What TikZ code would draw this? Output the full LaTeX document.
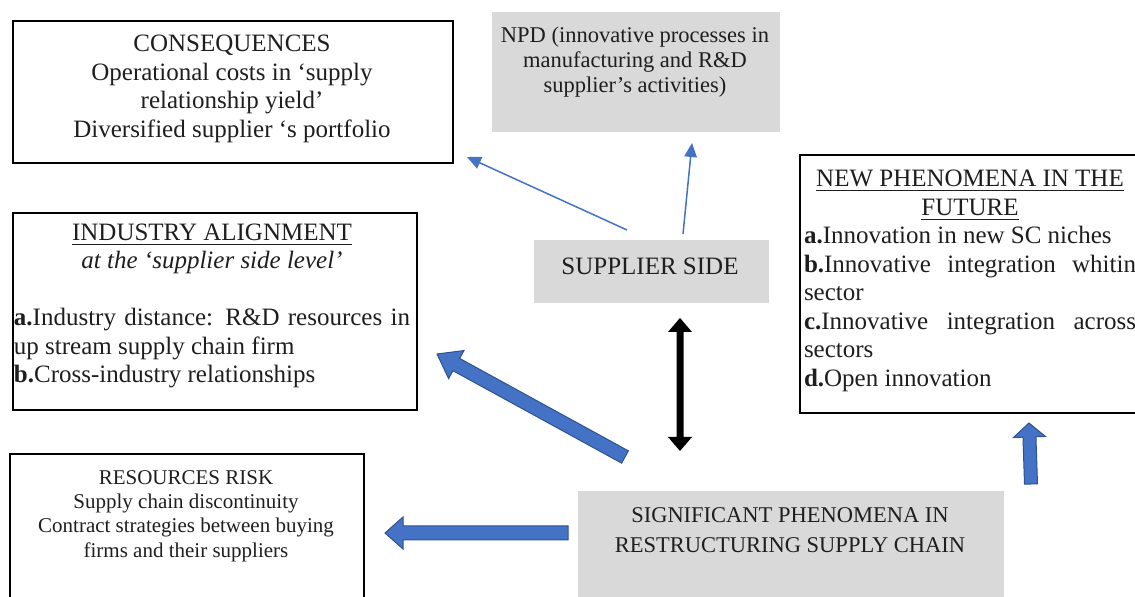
\documentclass[tikz,border=0pt]{standalone}
\usepackage{fontspec}
\setmainfont{Liberation Serif}
\usetikzlibrary{arrows.meta,calc,positioning}
\definecolor{ink}{HTML}{1E1E1E}
\definecolor{boxgray}{HTML}{D9D9D9}
\definecolor{arrowblue}{HTML}{4472C4}
\definecolor{arrowedge}{HTML}{2F528F}
\newcommand\bigtext{\fontsize{10}{11.4}\selectfont}
\newcommand\npdtext{\fontsize{9}{10}\selectfont}
\newcommand\sigtext{\fontsize{9}{11.8}\selectfont}
\newcommand\risktext{\fontsize{8.4}{9.7}\selectfont}
\newcommand\ctrline[1]{\hfill{#1}\hfill\null\par}
% block arrow: style, tail, tip, shaft half width, head half width, head length
\newcommand\singlearrow[6]{%
  \coordinate (neck) at ($(#3)!#6!(#2)$);
  \path[#1] ($(#2)!#4!90:(#3)$) -- ($(neck)!#4!90:(#3)$) -- ($(neck)!#5!90:(#3)$) -- (#3)
    -- ($(neck)!#5!-90:(#3)$) -- ($(neck)!#4!-90:(#3)$) -- ($(#2)!#4!-90:(#3)$) -- cycle;}
\newcommand\twowayarrow[6]{%
  \coordinate (necka) at ($(#2)!#6!(#3)$);\coordinate (neckb) at ($(#3)!#6!(#2)$);
  \path[#1] (#2) -- ($(necka)!#5!90:(#3)$) -- ($(necka)!#4!90:(#3)$) -- ($(neckb)!#4!90:(#3)$)
    -- ($(neckb)!#5!90:(#3)$) -- (#3) -- ($(neckb)!#5!-90:(#3)$) -- ($(neckb)!#4!-90:(#3)$)
    -- ($(necka)!#4!-90:(#3)$) -- ($(necka)!#5!-90:(#3)$) -- cycle;}
\tikzset{>=Latex,
  every node/.style={text=ink,inner sep=0pt},
  whitebox/.style={draw=black,line width=.7pt,anchor=north west},
  graybox/.style={fill=boxgray,anchor=north west},
  boxtext/.style={font=\bigtext,align=center},
  listtext/.style={font=\bigtext,align=justify,
    execute at begin node={\tolerance=10000\hyphenpenalty=10000}},
  thinarrow/.style={draw=arrowblue,line width=.6pt,-{Triangle[length=5.6pt,width=5pt]}},
  blockarrow/.style={fill=arrowblue,draw=arrowedge,line width=.4pt},
  twoway/.style={fill=black}}

\begin{document}
\begin{tikzpicture}[x=.4pt,y=-.4pt]
\useasboundingbox (0,0) rectangle (1135,597);
\clip (0,0) rectangle (1135,597);
% boxes
\node[whitebox,minimum width=176pt,minimum height=56.8pt] (cons) at (12,20) {};
\node[graybox,minimum width=115.2pt,minimum height=48pt] (npd) at (491,12) {};
\node[graybox,minimum width=94pt,minimum height=25.2pt] (supp) at (533,240) {};
\node[whitebox,minimum width=161.6pt,minimum height=78.8pt] (ind) at (12,212) {};
\node[whitebox,minimum width=150pt,minimum height=103.2pt] (newph) at (799,154) {};
\node[whitebox,minimum width=141.6pt,minimum height=64pt] (risk) at (9,453) {};
\node[graybox,minimum width=170.4pt,minimum height=48pt] (sig) at (577,491) {};
% texts
\node[boxtext] (consT) at (232,89) {CONSEQUENCES\\Operational costs in ‘supply\\relationship yield’\\Diversified supplier ‘s portfolio};
\node[boxtext,font=\npdtext] (npdT) at (635,62) {NPD (innovative processes in\\manufacturing and R\&D\\supplier’s activities)};
\node[boxtext] (suppT) at (650,266) {SUPPLIER SIDE};
\node[listtext,text width=158.4pt] (indT) at (212,306) {\ctrline{\underline{INDUSTRY ALIGNMENT}}\ctrline{\textit{at the ‘supplier side level’}}\vskip11.4pt
  \noindent\textbf{a.}Industry distance: R\&D resources in up stream supply chain firm\par
  \noindent\textbf{b.}Cross-industry relationships};
\node[listtext,text width=132.8pt] (newphT) at (970,281) {\ctrline{\underline{NEW PHENOMENA IN THE}}\ctrline{\underline{FUTURE}}
  \noindent\textbf{a.}Innovation in new SC niches\par
  \noindent\textbf{b.}Innovative integration whitin sector\par
  \noindent\textbf{c.}Innovative integration across sectors\par
  \noindent\textbf{d.}Open innovation};
\node[boxtext,font=\risktext] (riskT) at (186,516) {RESOURCES RISK\\Supply chain discontinuity\\Contract strategies between buying\\firms and their suppliers};
\node[boxtext,font=\sigtext] (sigT) at (790,530) {SIGNIFICANT PHENOMENA IN\\RESTRUCTURING SUPPLY CHAIN};
% arrow ends
\coordinate (suppNW) at (627,230); \coordinate (consTip) at (467,157);
\coordinate (suppN) at (683,234); \coordinate (npdTip) at (692,143);
\coordinate (suppS) at (680,318); \coordinate (sigN) at (680,451);
\coordinate (sigNW) at (625,457); \coordinate (indTip) at (437,354);
\coordinate (sigW) at (568,533); \coordinate (riskTip) at (385,533);
\coordinate (sigNE) at (1031,484); \coordinate (newphTip) at (1029,423);
% connectors
\draw[thinarrow] (suppNW) -- (consTip);
\draw[thinarrow] (suppN) -- (npdTip);
\twowayarrow{twoway}{suppS}{sigN}{1.4pt}{4.8pt}{5.6pt}
\singlearrow{blockarrow}{sigNW}{indTip}{2.8pt}{6.4pt}{8.8pt}
\singlearrow{blockarrow}{sigW}{riskTip}{2.8pt}{6.4pt}{7.2pt}
\singlearrow{blockarrow}{sigNE}{newphTip}{2.6pt}{6.4pt}{5.6pt}
\end{tikzpicture}
\end{document}
